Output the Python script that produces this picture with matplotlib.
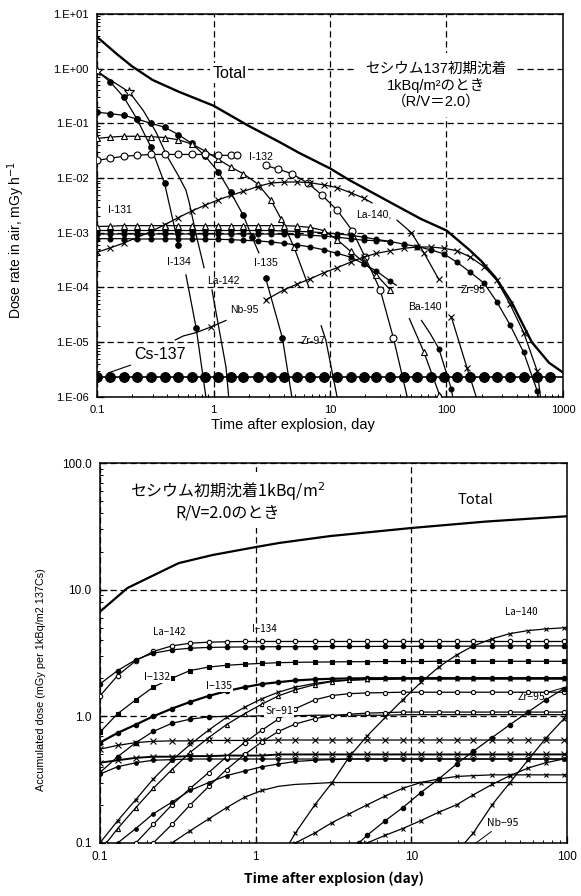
import matplotlib
matplotlib.use('Agg')
import matplotlib.pyplot as plt
from matplotlib.ticker import FixedLocator, FixedFormatter, LogLocator, NullFormatter

plt.rcParams['font.family'] = ['Liberation Sans', 'Noto Sans CJK JP']
plt.rcParams['axes.unicode_minus'] = False

# ==================== top: dose rate (mGy/h) ====================
t_top = [0.1, 0.13, 0.17, 0.22, 0.29, 0.38, 0.5, 0.65, 0.85, 1.1, 1.4, 1.8, 2.4, 3.1, 4, 5.2,
         6.8, 8.8, 11.5, 15, 19.5, 25, 33, 43, 56, 73, 95, 123, 160, 210, 270, 350, 460, 600, 780]

total_t = [0.1, 0.15, 0.2, 0.3, 0.5, 1, 2, 3.65, 5.4, 10, 14.5, 30, 60, 100, 155, 200, 265, 365, 540, 760, 1000]
total_d = [3.8, 1.8, 1.1, 0.62, 0.38, 0.21, 0.09, 0.046, 0.029, 0.015, 9.3e-3, 4e-3, 1.8e-3, 1.1e-3,
           5e-4, 3e-4, 1.5e-4, 5.2e-5, 1e-5, 4.2e-6, 2.8e-6]

cs137_t = t_top + [1000]
cs137_d = [2.3e-6, 2.3e-6, 2.3e-6, 2.3e-6, 2.3e-6, 2.3e-6, 2.3e-6, 2.3e-6, 2.3e-6, 2.3e-6, 2.3e-6, 2.3e-6,
           2.3e-6, 2.3e-6, 2.3e-6, 2.3e-6, 2.3e-6, 2.3e-6, 2.3e-6, 2.3e-6, 2.3e-6, 2.3e-6, 2.3e-6, 2.3e-6,
           2.3e-6, 2.3e-6, 2.3e-6, 2.3e-6, 2.3e-6, 2.3e-6, 2.3e-6, 2.3e-6, 2.3e-6, 2.3e-6, 2.3e-6, 2.3e-6]

i134a_t = [0.1, 0.13, 0.17, 0.22, 0.29, 0.38, 0.5]
i134a_d = [0.9, 0.57, 0.3, 0.12, 0.037, 0.008, 6e-4]
i134b_t = [0.58, 0.71, 0.86, 0.9]
i134b_d = [1.7e-4, 1.8e-5, 1e-6, 4e-7]

la142a_t = [0.1, 0.13, 0.19, 0.25, 0.32, 0.4, 0.5, 0.58, 0.62, 0.72, 0.83]
la142a_d = [0.9, 0.62, 0.37, 0.17, 0.07, 0.025, 0.011, 6e-3, 3.5e-3, 8e-4, 2.3e-4]
la142b_t = [0.97, 1.28, 1.35, 1.4]
la142b_d = [9e-5, 3.5e-6, 1e-6, 5e-7]

i135a_t = [0.1, 0.13, 0.17, 0.22, 0.29, 0.38, 0.5, 0.65, 0.85, 1.1, 1.4, 1.8, 2.14, 2.45]
i135a_d = [0.16, 0.15, 0.14, 0.12, 0.10, 0.085, 0.062, 0.043, 0.025, 0.013, 5.5e-3, 2.1e-3, 8.4e-4, 4.3e-4]
i135b_t = [2.8, 3.9, 4.7, 5]
i135b_d = [1.5e-4, 1.2e-5, 1e-6, 4e-7]

zr97a_t = [0.1, 0.13, 0.17, 0.22, 0.29, 0.38, 0.5, 0.65, 0.85, 1.1, 1.4, 1.8, 2.4, 3.1, 3.8, 4.9, 6.6]
zr97a_d = [0.053, 0.056, 0.058, 0.058, 0.057, 0.055, 0.05, 0.042, 0.031, 0.022, 0.016, 0.012,
           7.8e-3, 4e-3, 1.8e-3, 5.5e-4, 1e-4]
zr97b_t = [8.4, 9.2, 11.5, 12]
zr97b_d = [2e-5, 1.1e-5, 1e-6, 4e-7]

i132a_t = [0.1, 0.13, 0.17, 0.22, 0.29, 0.38, 0.5, 0.65, 0.85, 1.1, 1.4, 1.6]
i132a_d = [0.021, 0.023, 0.025, 0.026, 0.027, 0.027, 0.027, 0.027, 0.027, 0.026, 0.026, 0.026]
i132b_t = [2.8, 3.6, 4.7, 6.5, 8.5, 11.5, 15.5, 20, 27, 35, 46, 50]
i132b_d = [0.017, 0.0145, 0.012, 8e-3, 4.9e-3, 2.6e-3, 1.1e-3, 3.6e-4, 9e-5, 1.2e-5, 1e-6, 4e-7]

la140a_t = t_top[:21] + [23]
la140a_d = [4.4e-4, 5.3e-4, 6.5e-4, 8.2e-4, 1.05e-3, 1.4e-3, 1.9e-3, 2.5e-3, 3.2e-3, 4e-3, 4.8e-3,
            5.7e-3, 7e-3, 8.1e-3, 8.4e-3, 8.5e-3, 8.2e-3, 7.5e-3, 6.7e-3, 5.4e-3, 4.3e-3, 3.5e-3]
la140b_t = [37.6, 50, 64, 86]
la140b_d = [1.7e-3, 1e-3, 4.3e-4, 1.4e-4]
la140c_t = [110, 150, 180, 190]
la140c_d = [2.9e-5, 3.4e-6, 1e-6, 5e-7]

nb95a_t = [0.47, 0.55, 0.71, 0.95, 1.28]
nb95a_d = [1.1e-5, 1.3e-5, 1.5e-5, 1.9e-5, 2.5e-5]
nb95b_t = [2.8, 4, 5.2, 6.8, 8.8, 11.5, 15, 19.5, 25, 33, 43, 56, 73, 95, 123, 160, 210, 270, 350, 460, 600, 650]
nb95b_d = [5.9e-5, 9e-5, 1.15e-4, 1.45e-4, 1.85e-4, 2.3e-4, 2.9e-4, 3.6e-4, 4.2e-4, 4.7e-4, 5.2e-4,
           5.5e-4, 5.5e-4, 5.2e-4, 4.7e-4, 3.6e-4, 2.4e-4, 1.35e-4, 5e-5, 1.5e-5, 3e-6, 8e-7]

zr95_t = t_top[:34] + [640]
zr95_d = [1.1e-3, 1.1e-3, 1.1e-3, 1.1e-3, 1.1e-3, 1.1e-3, 1.1e-3, 1.1e-3, 1.1e-3, 1.1e-3, 1.1e-3, 1.1e-3,
          1.1e-3, 1.1e-3, 1.08e-3, 1.06e-3, 1.04e-3, 1e-3, 9.6e-4, 9e-4, 8.3e-4, 7.6e-4, 6.9e-4, 6.2e-4,
          5.6e-4, 4.9e-4, 4.1e-4, 2.9e-4, 1.9e-4, 1.2e-4, 5.5e-5, 2.1e-5, 6.5e-6, 1.3e-6, 7e-7]

dots2_t = t_top[:23]
dots2_d = [9.5e-4, 9.5e-4, 9.5e-4, 9.5e-4, 9.5e-4, 9.5e-4, 9.5e-4, 9.5e-4, 9.5e-4, 9.5e-4, 9.5e-4, 9.5e-4,
           9.5e-4, 9.5e-4, 9.4e-4, 9.2e-4, 9e-4, 8.7e-4, 8.3e-4, 7.8e-4, 7.3e-4, 7.2e-4, 6.9e-4]

i131a_t = t_top[:23]
i131a_d = [1.3e-3, 1.32e-3, 1.35e-3, 1.35e-3, 1.35e-3, 1.35e-3, 1.35e-3, 1.35e-3, 1.35e-3, 1.35e-3, 1.35e-3,
           1.35e-3, 1.35e-3, 1.35e-3, 1.35e-3, 1.32e-3, 1.25e-3, 1.1e-3, 7.5e-4, 4.6e-4, 2.9e-4, 1.7e-4, 9e-5]
i131b_t = [48, 64, 87, 95]
i131b_d = [2.7e-5, 6.6e-6, 1.1e-6, 5e-7]

ba140a_t = t_top[:23] + [37]
ba140a_d = [7.8e-4, 7.8e-4, 7.8e-4, 7.7e-4, 7.7e-4, 7.7e-4, 7.7e-4, 7.7e-4, 7.6e-4, 7.6e-4, 7.5e-4, 7.3e-4,
            7.1e-4, 6.8e-4, 6.4e-4, 6e-4, 5.5e-4, 4.9e-4, 4.2e-4, 3.6e-4, 2.7e-4, 2e-4, 1.3e-4, 1.1e-4]
ba140b_t = [61, 73, 86, 110, 115]
ba140b_d = [2.5e-5, 1.4e-5, 7.6e-6, 1.4e-6, 8e-7]

top_yticks = [1e1, 1e0, 1e-1, 1e-2, 1e-3, 1e-4, 1e-5, 1e-6]
top_ylabels = ['1.E+01', '1.E+00', '1.E-01', '1.E-02', '1.E-03', '1.E-04', '1.E-05', '1.E-06']
top_xticks = [0.1, 1, 10, 100, 1000]
top_xlabels = ['0.1', '1', '10', '100', '1000']

# ==================== bottom: accumulated dose (mGy) ====================
t_bot = [0.1, 0.13, 0.17, 0.22, 0.29, 0.38, 0.5, 0.65, 0.85, 1.1, 1.4, 1.8, 2.4, 3.1, 4, 5.2,
         6.8, 8.8, 11.5, 15, 19.5, 25, 33, 43, 56, 73, 95, 100]

btotal_t = [0.1, 0.15, 0.21, 0.32, 0.53, 1, 1.42, 3, 10, 30, 100]
btotal_d = [6.7, 10.3, 12.6, 16.2, 18.8, 21.7, 23.4, 26.5, 30.7, 34.5, 38]

b_i134 = [1.45, 2.1, 2.75, 3.25, 3.6, 3.78, 3.85, 3.88, 3.9, 3.9, 3.9, 3.9, 3.9, 3.9,
          3.9, 3.9, 3.9, 3.9, 3.9, 3.9, 3.9, 3.9, 3.9, 3.9, 3.9, 3.9, 3.9, 3.9]
b_la142 = [1.8, 2.3, 2.8, 3.15, 3.35, 3.45, 3.5, 3.52, 3.53, 3.54, 3.55, 3.55, 3.55, 3.56,
           3.56, 3.56, 3.57, 3.57, 3.57, 3.58, 3.58, 3.58, 3.59, 3.6, 3.6, 3.6, 3.6, 3.6]
b_i132 = [0.75, 1.05, 1.35, 1.7, 2.0, 2.3, 2.45, 2.53, 2.58, 2.62, 2.65, 2.67, 2.68, 2.69,
          2.7, 2.7, 2.71, 2.71, 2.71, 2.72, 2.72, 2.72, 2.72, 2.72, 2.72, 2.72, 2.72, 2.72]
b_i135 = [0.62, 0.74, 0.86, 1.0, 1.15, 1.3, 1.45, 1.58, 1.7, 1.8, 1.86, 1.92, 1.96, 1.98,
          1.99, 2.0, 2.0, 2.0, 2.0, 2.0, 2.0, 2.0, 2.0, 2.0, 2.0, 2.0, 2.0, 2.0]
b_d103 = [0.36, 0.48, 0.62, 0.76, 0.88, 0.95, 0.99, 1.0, 1.0, 1.01, 1.01, 1.01, 1.02, 1.02,
          1.02, 1.02, 1.02, 1.03, 1.03, 1.03, 1.03, 1.03, 1.03, 1.03, 1.03, 1.03, 1.03, 1.03]
b_x065 = [0.55, 0.59, 0.62, 0.635, 0.64, 0.64, 0.645, 0.645, 0.645, 0.645, 0.65, 0.65, 0.65, 0.65,
          0.65, 0.65, 0.65, 0.65, 0.65, 0.65, 0.65, 0.65, 0.65, 0.65, 0.65, 0.65, 0.65, 0.65]
b_x050 = [0.43, 0.45, 0.47, 0.48, 0.48, 0.485, 0.485, 0.49, 0.49, 0.49, 0.5, 0.5, 0.5, 0.5,
          0.5, 0.5, 0.5, 0.5, 0.5, 0.5, 0.5, 0.5, 0.5, 0.5, 0.5, 0.5, 0.5, 0.5]
b_d046 = [0.35, 0.4, 0.43, 0.45, 0.455, 0.46, 0.46, 0.46, 0.46, 0.46, 0.46, 0.46, 0.46, 0.46,
          0.46, 0.46, 0.46, 0.46, 0.46, 0.46, 0.46, 0.46, 0.46, 0.46, 0.46, 0.46, 0.46, 0.46]

b_r1 = [0.1, 0.15, 0.22, 0.32, 0.45, 0.6, 0.78, 0.98, 1.18, 1.38, 1.55, 1.7, 1.82, 1.9,
        1.93, 1.95, 1.96, 1.97, 1.97, 1.97, 1.97, 1.97, 1.97, 1.97, 1.97, 1.97, 1.97, 1.97]
b_r1b_t = [0.11] + t_bot[1:]
b_r1b = [0.1, 0.13, 0.19, 0.27, 0.38, 0.52, 0.68, 0.86, 1.05, 1.25, 1.45, 1.62, 1.78, 1.88,
         1.93, 1.96, 1.98, 1.99, 2.0, 2.0, 2.0, 2.0, 2.0, 2.0, 2.0, 2.0, 2.0, 2.0]
b_sr91 = [0.1, 0.14, 0.2, 0.27, 0.36, 0.48, 0.62, 0.78, 0.95, 1.15, 1.35, 1.46, 1.51,
          1.53, 1.54, 1.55, 1.55, 1.55, 1.55, 1.55, 1.55, 1.55, 1.55, 1.55, 1.55, 1.55]
b_r3 = [0.1, 0.14, 0.2, 0.28, 0.38, 0.5, 0.63, 0.76, 0.87, 0.96, 1.01, 1.04, 1.06,
        1.07, 1.08, 1.08, 1.08, 1.08, 1.08, 1.08, 1.08, 1.08, 1.08, 1.08, 1.08]
b_r4 = [0.1, 0.125, 0.155, 0.19, 0.23, 0.26, 0.28, 0.29, 0.295, 0.3, 0.3, 0.3,
        0.3, 0.3, 0.3, 0.3, 0.3, 0.3, 0.3, 0.3, 0.3, 0.3, 0.3, 0.3]
b_r5 = [0.1, 0.13, 0.17, 0.21, 0.26, 0.3, 0.34, 0.37, 0.4, 0.42, 0.44, 0.45, 0.455, 0.46,
        0.46, 0.46, 0.46, 0.46, 0.46, 0.46, 0.46, 0.46, 0.46, 0.46, 0.46, 0.46, 0.46]
b_r6 = [0.1, 0.12, 0.145, 0.17, 0.2, 0.235, 0.27, 0.3, 0.32, 0.335, 0.34, 0.345, 0.345,
        0.345, 0.345, 0.345, 0.345]
b_l5 = [0.1, 0.115, 0.13, 0.15, 0.175, 0.2, 0.24, 0.29, 0.34, 0.39, 0.43, 0.46, 0.47]

b_la140_t = [1.65] + t_bot[11:]
b_la140 = [0.1, 0.12, 0.2, 0.3, 0.48, 0.7, 0.98, 1.35, 1.85, 2.45, 3.05, 3.6, 4.1, 4.5, 4.75, 4.9, 5.0, 5.0]
b_zr95_t = [4.6] + t_bot[15:]
b_zr95 = [0.1, 0.115, 0.15, 0.19, 0.25, 0.32, 0.42, 0.53, 0.68, 0.86, 1.08, 1.35, 1.65, 1.72]
b_nb95_t = [22] + t_bot[21:]
b_nb95 = [0.1, 0.12, 0.2, 0.3, 0.45, 0.67, 0.95, 1.05]

bot_yticks = [0.1, 1, 10, 100]
bot_ylabels = ['0.1', '1.0', '10.0', '100.0']
bot_xticks = [0.1, 1, 10, 100]
bot_xlabels = ['0.1', '1', '10', '100']


def curve(ax, t, d, m=None, every=None, ms=4.0, fill='black', lw=0.9, mew=0.8):
    ax.plot(t, d, color='black', lw=lw, marker=m, markevery=every, ms=ms,
            mfc=fill, mec='black', mew=mew, zorder=3, clip_on=True)


def label(ax, x, y, s, size=7.5, **kw):
    ax.text(x, y, s, fontsize=size, ha='center', va='center', zorder=6, **kw)


def frame(ax, xt, xl, yt, yl, size):
    ax.set_xscale('log')
    ax.set_yscale('log')
    ax.xaxis.set_major_locator(FixedLocator(xt))
    ax.xaxis.set_major_formatter(FixedFormatter(xl))
    ax.yaxis.set_major_locator(FixedLocator(yt))
    ax.yaxis.set_major_formatter(FixedFormatter(yl))
    ax.xaxis.set_minor_locator(LogLocator(base=10, subs=range(2, 10)))
    ax.yaxis.set_minor_locator(LogLocator(base=10, subs=range(2, 10)))
    ax.xaxis.set_minor_formatter(NullFormatter())
    ax.yaxis.set_minor_formatter(NullFormatter())
    ax.tick_params(which='major', direction='in', length=5, width=0.9, labelsize=size, pad=6)
    ax.tick_params(which='minor', direction='in', length=2.5, width=0.7)
    ax.grid(True, which='major', ls=(0, (5, 3)), lw=0.9, color='black')
    ax.set_axisbelow(True)
    for sp in ax.spines.values():
        sp.set_linewidth(1.1)


fig = plt.figure(figsize=(5.81, 8.96), dpi=100)
fig.patch.set_facecolor('white')

# ---------- top ----------
ax1 = fig.add_axes([0.167, 0.557, 0.802, 0.4275])
frame(ax1, top_xticks, top_xlabels, top_yticks, top_ylabels, 8)
ax1.set_xlim(0.1, 1000)
ax1.set_ylim(1e-6, 1e1)

curve(ax1, total_t, total_d, lw=1.7)
curve(ax1, cs137_t, cs137_d, 'o', slice(0, -1), ms=7, lw=1.2)
curve(ax1, i134a_t, i134a_d, 'o', range(1, 7))
curve(ax1, i134b_t, i134b_d, 'o', [1])
curve(ax1, la142a_t, la142a_d, '*', [0, 2], ms=7, fill='white')
curve(ax1, la142b_t, la142b_d)
curve(ax1, i135a_t, i135a_d, 'o', slice(0, -1))
curve(ax1, i135b_t, i135b_d, 'o', [0, 1])
curve(ax1, zr97a_t, zr97a_d, '^', slice(0, -1), ms=4.5, fill='white')
curve(ax1, zr97b_t, zr97b_d)
curve(ax1, i132a_t, i132a_d, 'o', None, ms=5, fill='white')
curve(ax1, i132b_t, i132b_d, 'o', slice(0, -2), ms=5, fill='white')
curve(ax1, la140a_t, la140a_d, 'x', slice(0, -1), ms=5)
curve(ax1, la140b_t, la140b_d, 'x', [1, 2, 3], ms=5)
curve(ax1, la140c_t, la140c_d, 'x', [0, 1], ms=5)
curve(ax1, nb95a_t, nb95a_d, 'x', [3], ms=5)
curve(ax1, nb95b_t, nb95b_d, 'x', slice(0, -1), ms=5)
curve(ax1, zr95_t, zr95_d, 'o', slice(0, -1), ms=3.5)
curve(ax1, dots2_t, dots2_d, 'o', None, ms=3.5)
curve(ax1, i131a_t, i131a_d, '^', None, ms=4.5, fill='white')
curve(ax1, i131b_t, i131b_d, '^', [1, 2], ms=4.5, fill='white')
curve(ax1, ba140a_t, ba140a_d, 'o', slice(0, -1), ms=3.5)
curve(ax1, ba140b_t, ba140b_d, 'o', [2, 3], ms=3.5)

label(ax1, 1.36, 0.83, 'Total', size=11.5, bbox=dict(boxstyle='square,pad=0.15', fc='white', ec='none'))
ax1.text(81, 0.5, 'セシウム137初期沈着\n1kBq/m²のとき\n（R/V＝2.0）', fontsize=10.5, ha='center',
         va='center', linespacing=1.15, zorder=6,
         bbox=dict(boxstyle='square,pad=0.6', fc='white', ec='none'))
label(ax1, 0.157, 2.6e-3, 'I-131')
label(ax1, 0.506, 2.9e-4, 'I-134')
label(ax1, 1.21, 1.3e-4, 'La-142')
label(ax1, 2.82, 2.8e-4, 'I-135')
label(ax1, 1.83, 3.9e-5, 'Nb-95')
label(ax1, 7.1, 1.05e-5, 'Zr-97')
label(ax1, 65.5, 4.4e-5, 'Ba-140')
label(ax1, 170, 8.9e-5, 'Zr-95')
label(ax1, 23.9, 2.2e-3, 'La-140,')
label(ax1, 2.55, 0.0245, 'I-132')
ax1.annotate('Cs-137', xy=(0.125, 2.75e-6), xytext=(0.35, 5.9e-6), fontsize=11.5, ha='center',
             va='center', arrowprops=dict(arrowstyle='-', lw=0.8, color='black', shrinkA=1, shrinkB=0))

ax1.set_ylabel('Dose rate in air, mGy h$^{-1}$', fontsize=10)
ax1.yaxis.set_label_coords(-0.15, 0.41)
ax1.set_xlabel('Time after explosion, day', fontsize=10.5)
ax1.xaxis.set_label_coords(0.42, -0.055)

# ---------- bottom ----------
ax2 = fig.add_axes([0.172, 0.0592, 0.804, 0.424])
frame(ax2, bot_xticks, bot_xlabels, bot_yticks, bot_ylabels, 8.5)
ax2.set_xlim(0.1, 100)
ax2.set_ylim(0.1, 100)

curve(ax2, btotal_t, btotal_d, lw=1.6)
curve(ax2, t_bot, b_i134, 'o', slice(0, -1), ms=3.2, fill='white')
curve(ax2, t_bot, b_la142, 'o', slice(0, -1), ms=3.2)
curve(ax2, t_bot, b_i132, 's', slice(0, -1), ms=3.2)
curve(ax2, t_bot, b_i135, 'o', slice(0, -1), ms=3.2, lw=1.6)
curve(ax2, t_bot, b_d103, 'o', range(0, 7), ms=3.2)
curve(ax2, t_bot, b_x065, 'x', slice(0, -1), ms=4)
curve(ax2, t_bot, b_x050, 'x', slice(0, -1), ms=4, lw=1.4)
curve(ax2, t_bot, b_d046, 'o', slice(0, -1), ms=2.6)
curve(ax2, t_bot, b_r1, 'x', slice(0, -1), ms=3.5)
curve(ax2, b_r1b_t, b_r1b, '^', slice(0, 16), ms=3, fill='white')
curve(ax2, t_bot[2:], b_sr91, 'o', slice(0, -1), ms=3, fill='white')
curve(ax2, t_bot[3:], b_r3, 'o', slice(0, -1), ms=3, fill='white')
curve(ax2, t_bot[4:], b_r4, 'x', range(0, 6), ms=3.5)
curve(ax2, t_bot[1:], b_r5, 'o', slice(0, 14), ms=2.6)
curve(ax2, t_bot[11:], b_r6, 'x', slice(0, -1), ms=3.5)
curve(ax2, t_bot[15:], b_l5, 'x', slice(0, -1), ms=3.5)
curve(ax2, b_la140_t, b_la140, 'x', slice(1, -1), ms=3.5)
curve(ax2, b_zr95_t, b_zr95, 'o', slice(0, -1), ms=3.2)
curve(ax2, b_nb95_t, b_nb95, 'x', slice(1, -1), ms=3.5)

cjk = ['Noto Sans CJK JP']
ax2.text(0.66, 50, 'セシウム初期沈着1kBq/m$^2$\nR/V=2.0のとき', fontsize=11.5, ha='center', va='center',
         linespacing=1.1, zorder=6, family=cjk,
         bbox=dict(boxstyle='square,pad=0.4', fc='white', ec='none'))
label(ax2, 25.6, 51, 'Total', size=10.5, family=cjk)
label(ax2, 0.278, 4.6, 'La−142', size=7, family=cjk)
label(ax2, 1.14, 4.9, 'I−134', size=7, family=cjk)
label(ax2, 0.233, 2.05, 'I−132', size=7.5, family=cjk, bbox=dict(boxstyle='square,pad=0.1', fc='white', ec='none'))
label(ax2, 0.58, 1.74, 'I−135', size=7.5, family=cjk, bbox=dict(boxstyle='square,pad=0.1', fc='white', ec='none'))
label(ax2, 1.42, 1.1, 'Sr−91', size=7.5, family=cjk, bbox=dict(boxstyle='square,pad=0.1', fc='white', ec='none'))
label(ax2, 50.7, 6.7, 'La−140', size=7, family=cjk)
ax2.annotate('Zr−95', xy=(98, 1.7), xytext=(58.7, 1.42), fontsize=7.5, ha='center', va='center',
             family=cjk, arrowprops=dict(arrowstyle='-', lw=0.7, color='black', shrinkA=1, shrinkB=0))
ax2.annotate('Nb−95', xy=(26, 0.1), xytext=(38.8, 0.144), fontsize=7.5, ha='center', va='center',
             family=cjk, arrowprops=dict(arrowstyle='-', lw=0.7, color='black', shrinkA=1, shrinkB=0))

ax2.set_ylabel('Accumulated dose (mGy per 1kBq/m2 137Cs)', fontsize=7.8)
ax2.yaxis.set_label_coords(-0.115, 0.43)
ax2.set_xlabel('Time after explosion (day)', fontsize=10, fontweight='bold', family=cjk)
ax2.xaxis.set_label_coords(0.5, -0.075)

fig.savefig('out.png', dpi=100, facecolor='white')
